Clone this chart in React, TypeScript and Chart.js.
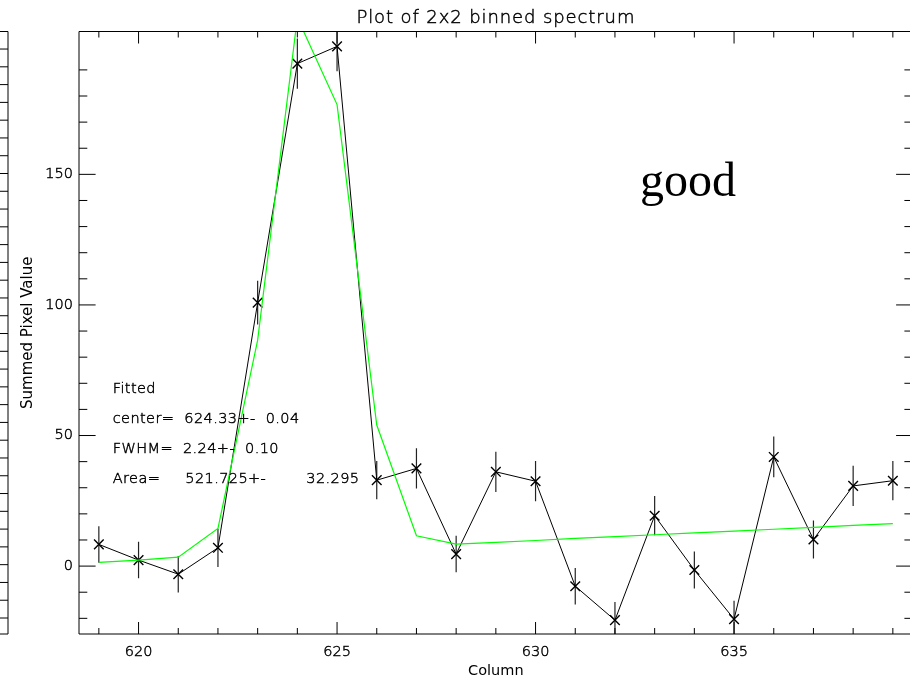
import React, { useEffect, useRef } from "react";
import { Chart, registerables } from "chart.js";

Chart.register(...registerables);

// Binned spectrum: summed pixel value per detector column, with 1-sigma errors
const columns = [619, 620, 621, 622, 623, 624, 625, 626, 627, 628, 629, 630, 631, 632, 633, 634, 635, 636, 637, 638, 639];
const summed = [8.3, 2.3, -3.1, 7.0, 100.9, 192.4, 199.0, 32.9, 37.4, 4.6, 36.1, 32.5, -7.7, -20.7, 19.3, -1.5, -20.3, 41.8, 10.2, 30.7, 32.7];
const sigma = [7.0, 7.0, 7.0, 7.3, 8.4, 9.6, 9.5, 7.3, 7.7, 7.0, 7.7, 7.7, 7.0, 7.0, 7.5, 7.1, 7.0, 7.8, 7.3, 7.7, 7.5];
// Gaussian + linear background fit evaluated at each column
const fitted = [1.4, 2.3, 3.4, 14.4, 86.5, 210.0, 176.7, 54.0, 11.6, 8.4, 9.1, 9.8, 10.6, 11.3, 12.0, 12.7, 13.4, 14.1, 14.8, 15.6, 16.3];

const xTickLabels = [620, 625, 630, 635];
const yTickLabels = [0, 50, 100, 150];
const xMinorTicks = [619, 620, 621, 622, 623, 624, 625, 626, 627, 628, 629, 630, 631, 632, 633, 634, 635, 636, 637, 638, 639];
const yMinorTicks = [-20, -10, 0, 10, 20, 30, 40, 50, 60, 70, 80, 90, 100, 110, 120, 130, 140, 150, 160, 170, 180, 190];

const fitLines = [
  "Fitted",
  "center=  624.33+-  0.04",
  "FWHM=  2.24+-  0.10",
  "Area=     521.725+-        32.295",
];

const titleText = "Plot of 2x2 binned spectrum";
const qualityText = "good";

const X_MIN = 618.5;
const X_MAX = 639.5;
const Y_MIN = -26;
const Y_MAX = 204.7;

const FONT = '"DejaVu Sans", sans-serif';
const WEIGHT = "200";
const STROKE = 0.45;

const idlAxes = {
  id: "idlAxes",
  beforeDatasetsDraw(chart: any) {
    const { ctx, chartArea } = chart;
    const xs = chart.scales.x;
    const ys = chart.scales.y;
    ctx.save();
    ctx.beginPath();
    ctx.rect(chartArea.left, chartArea.top, chartArea.right - chartArea.left, chartArea.bottom - chartArea.top);
    ctx.clip();
    ctx.strokeStyle = "#222";
    ctx.lineWidth = 1.2;
    ctx.beginPath();
    columns.forEach((c, i) => {
      const px = xs.getPixelForValue(c);
      ctx.moveTo(px, ys.getPixelForValue(summed[i] + sigma[i]));
      ctx.lineTo(px, ys.getPixelForValue(summed[i] - sigma[i]));
    });
    ctx.stroke();
    ctx.restore();
  },
  afterDatasetsDraw(chart: any) {
    const { ctx, chartArea } = chart;
    const { left, right, top, bottom } = chartArea;
    const xs = chart.scales.x;
    const ys = chart.scales.y;
    ctx.save();
    ctx.strokeStyle = "#000";
    ctx.lineWidth = 1;

    // plot frame
    ctx.beginPath();
    ctx.rect(left, top, right - left, bottom - top);
    ctx.stroke();

    // inward ticks on all four sides
    ctx.beginPath();
    xMinorTicks.forEach((c) => {
      const px = xs.getPixelForValue(c);
      const len = xTickLabels.includes(c) ? 12 : 6;
      ctx.moveTo(px, bottom);
      ctx.lineTo(px, bottom - len);
      ctx.moveTo(px, top);
      ctx.lineTo(px, top + len);
    });
    yMinorTicks.forEach((v) => {
      const py = ys.getPixelForValue(v);
      const len = yTickLabels.includes(v) ? 16.6 : 8.3;
      ctx.moveTo(left, py);
      ctx.lineTo(left + len, py);
      ctx.moveTo(right, py);
      ctx.lineTo(right - len, py);
    });
    ctx.stroke();

    // edge of the neighbouring panel on the left
    ctx.beginPath();
    ctx.moveTo(8, top);
    ctx.lineTo(8, bottom);
    ctx.moveTo(0, top);
    ctx.lineTo(8, top);
    ctx.moveTo(0, bottom);
    ctx.lineTo(8, bottom);
    for (let y = bottom - 16; y > top + 4; y -= 17.78) {
      ctx.moveTo(0, y);
      ctx.lineTo(8, y);
    }
    ctx.stroke();

    const put = (text: string, x: number, y: number) => {
      ctx.fillText(text, x, y);
      ctx.strokeText(text, x, y);
    };

    // title
    ctx.fillStyle = "#000";
    ctx.strokeStyle = "#000";
    ctx.lineWidth = STROKE;
    ctx.textBaseline = "alphabetic";
    ctx.textAlign = "center";
    ctx.font = `${WEIGHT} 18px ${FONT}`;
    (ctx as any).letterSpacing = "0.9px";
    put(titleText, (left + right) / 2, 22.7);
    (ctx as any).letterSpacing = "0px";

    // fit results
    ctx.textAlign = "left";
    ctx.font = `${WEIGHT} 14.5px ${FONT}`;
    (ctx as any).letterSpacing = "0.4px";
    fitLines.forEach((line, i) => {
      put(line, left + 33.7, 393.3 + i * 30);
    });
    (ctx as any).letterSpacing = "0px";

    // quality flag
    ctx.font = '48px "Liberation Serif", serif';
    ctx.fillText(qualityText, 640, 196);
    ctx.restore();
  },
};

export default function App() {
  const canvasRef = useRef<HTMLCanvasElement | null>(null);

  useEffect(() => {
    if (!canvasRef.current) return;
    const chart = new Chart(canvasRef.current, {
      type: "line",
      data: {
        datasets: [
          {
            label: "fit",
            data: columns.map((c, i) => ({ x: c, y: fitted[i] })),
            borderColor: "#00ff00",
            borderWidth: 1.2,
            pointRadius: 0,
            fill: false,
            tension: 0,
          },
          {
            label: "data",
            data: columns.map((c, i) => ({ x: c, y: summed[i] })),
            borderColor: "#000",
            borderWidth: 1,
            pointStyle: "crossRot",
            pointRadius: 6.8,
            pointBorderColor: "#000",
            pointBorderWidth: 1.4,
            fill: false,
            tension: 0,
          },
        ],
      },
      options: {
        animation: false,
        responsive: true,
        maintainAspectRatio: false,
        layout: { padding: { top: 31.5, right: 17.3, left: 0, bottom: 0 } },
        plugins: {
          legend: { display: false },
          tooltip: { enabled: false },
          title: { display: false },
        },
        scales: {
          x: {
            type: "linear",
            min: X_MIN,
            max: X_MAX,
            afterBuildTicks: (s: any) => {
              s.ticks = xTickLabels.map((v) => ({ value: v }));
            },
            afterFit: (s: any) => {
              s.height = 44;
            },
            grid: { display: false, drawTicks: false },
            border: { display: false },
            ticks: {
              autoSkip: false,
              maxRotation: 0,
              padding: 10,
              color: "#000",
              textStrokeColor: "#000",
              textStrokeWidth: STROKE,
              font: { family: FONT, size: 14.5, weight: WEIGHT },
              callback: (v: any) => String(v),
            },
            title: {
              display: true,
              text: "Column",
              color: "#000",
              font: { family: FONT, size: 14.5, weight: "normal", lineHeight: 1 },
              padding: { top: 0, bottom: 0 },
            },
          },
          y: {
            type: "linear",
            min: Y_MIN,
            max: Y_MAX,
            afterBuildTicks: (s: any) => {
              s.ticks = yTickLabels.map((v) => ({ value: v }));
            },
            afterFit: (s: any) => {
              s.width = 79;
            },
            grid: { display: false, drawTicks: false },
            border: { display: false },
            ticks: {
              padding: 6,
              color: "#000",
              textStrokeColor: "#000",
              textStrokeWidth: STROKE,
              font: { family: FONT, size: 14.5, weight: WEIGHT },
              callback: (v: any) => String(v),
            },
            title: {
              display: true,
              text: "Summed Pixel Value",
              color: "#000",
              font: { family: FONT, size: 15, weight: "normal", lineHeight: 1.2 },
              padding: { top: 19.3, bottom: 0 },
            },
          },
        },
      },
      plugins: [idlAxes],
    });
    return () => chart.destroy();
  }, []);

  return (
    <div style={{ position: "fixed", left: 0, top: 0, width: 910, height: 678, overflow: "hidden", background: "#fff" }}>
      <div style={{ position: "relative", width: 930, height: 678 }}>
        <canvas ref={canvasRef} />
      </div>
    </div>
  );
}
